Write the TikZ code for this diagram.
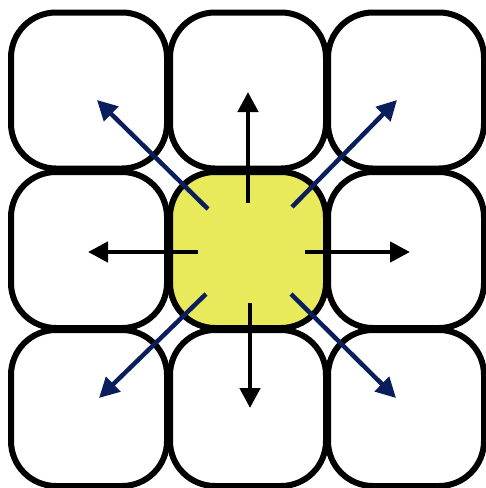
\documentclass[tikz,border=0pt]{standalone}
\usetikzlibrary{arrows.meta,calc}
\definecolor{cellyellow}{HTML}{E8EA5C}
\definecolor{navyarrow}{HTML}{0A1E5E}
\tikzset{
  cell/.style={draw=black, line width=6pt, rounded corners=45pt, minimum size=156pt, inner sep=0pt, fill=white},
  centercell/.style={cell, fill=cellyellow},
  straightarrow/.style={draw=black, line width=4.5pt, -{Triangle[length=20pt,width=20pt]}},
  diagarrow/.style={draw=navyarrow, line width=4.5pt, -{Triangle[length=20pt,width=20pt]}}
}
\begin{document}
\begin{tikzpicture}[x=1pt,y=-1pt]
\useasboundingbox (0,0) rectangle (486,488);
\node[cell] (nw) at (89,90.5) {};
\node[cell] (n)  at (248,90.5) {};
\node[cell] (ne) at (406,90.5) {};
\node[cell] (w)  at (89,250) {};
\node[cell] (e)  at (406,250) {};
\node[cell] (sw) at (89,408) {};
\node[cell] (s)  at (248,408) {};
\node[cell] (se) at (406,408) {};
\node[centercell] (c) at (248,250) {};
\coordinate (cn) at ($(c.center)+(0,-47)$);
\coordinate (cs) at ($(c.center)+(2,53)$);
\coordinate (cw) at ($(c.center)+(-50,2)$);
\coordinate (ce) at ($(c.center)+(57,2)$);
\coordinate (cnw) at ($(c.center)+(-40,-41)$);
\coordinate (cne) at ($(c.center)+(44,-43)$);
\coordinate (csw) at ($(c.center)+(-42,44)$);
\coordinate (cse) at ($(c.center)+(43,44)$);
\path[straightarrow] (cn) -- ($(n.center)+(0,1.5)$);
\path[straightarrow] (cs) -- ($(s.center)+(2,0)$);
\path[straightarrow] (cw) -- ($(w.center)+(-1,2)$);
\path[straightarrow] (ce) -- ($(e.center)+(4,2)$);
\path[diagarrow] (cnw) -- ($(nw.center)+(8,9.5)$);
\path[diagarrow] (cne) -- ($(ne.center)+(-9,9.5)$);
\path[diagarrow] (csw) -- ($(sw.center)+(10,-10)$);
\path[diagarrow] (cse) -- ($(se.center)+(-10,-10)$);
\end{tikzpicture}
\end{document}
